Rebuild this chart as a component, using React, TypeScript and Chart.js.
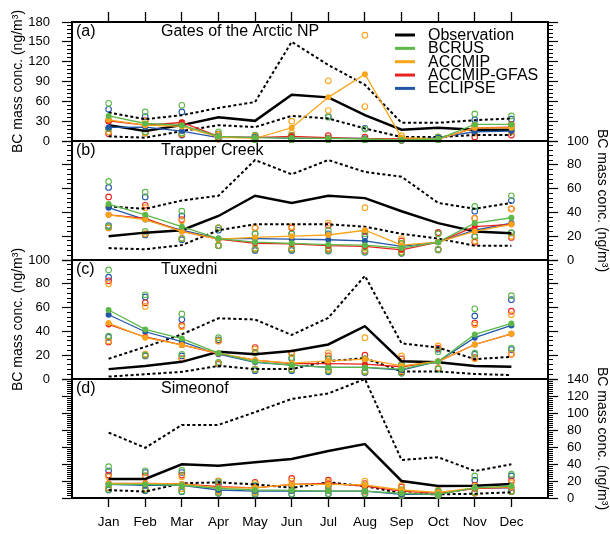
import React, { useEffect, useRef } from "react";
import { Chart, registerables } from "chart.js";

Chart.register(...registerables);

const FONT = '"Liberation Sans", Arial, Helvetica, sans-serif';
Chart.defaults.font.family = FONT;

// ---------- labels ----------
const MONTHS = ["Jan", "Feb", "Mar", "Apr", "May", "Jun", "Jul", "Aug", "Sep", "Oct", "Nov", "Dec"];
const SERIES_NAMES = ["Observation", "BCRUS", "ACCMIP", "ACCMIP-GFAS", "ECLIPSE"];
const SERIES_COLORS = ["#000000", "#5DB84A", "#F9A51B", "#E8231F", "#2257A8"];
const PANEL_LABELS = ["(a)", "(b)", "(c)", "(d)"];
const PANEL_TITLES = ["Gates of the Arctic NP", "Trapper Creek", "Tuxedni", "Simeonof"];
const Y_TITLE = "BC mass conc. (ng/m³)";

const A_TICKS = [0, 30, 60, 90, 120, 150, 180];
const B_TICKS = [0, 20, 40, 60, 80, 100];
const C_TICKS = [0, 20, 40, 60, 80, 100];
const D_TICKS = [0, 20, 40, 60, 80, 100, 120, 140];

// ---------- (a) Gates of the Arctic NP ----------
const A_OBS = [24, 15, 24, 36, 30.5, 70, 66, 39, 17, 20, 17, 17];
const A_OBS_HI = [43, 33, 39, 50, 59, 150, 115, 85, 27.5, 27.5, 31.5, 34];
const A_OBS_LO = [7, 5, 15, 24, 21, 38, 34, 19, 6, 6, 9, 9];
const A_BCRUS = [38, 26.5, 24, 7, 5, 4.5, 4, 3, 1.5, 3, 25, 25];
const A_ACCMIP = [32, 24, 22, 6, 4, 20, 66, 101, 5, 3, 20, 20];
const A_GFAS = [30.5, 24, 28, 7, 5, 7, 5, 3.5, 3, 3, 20, 21];
const A_ECLIPSE = [20.5, 21, 15, 5, 6, 4, 4.5, 4, 1, 5, 14, 15];
const A_BCRUS_HI = [57, 44, 54, 14, 9, 8, 36, 18, 4, 6, 41, 38];
const A_BCRUS_LO = [19, 14, 12, 4, 2, 2, 2, 2, 1, 2, 18, 18];
const A_ACCMIP_HI = [32, 30, 26, 10, 8, 30, 91, 160, 8, 6, 22, 24];
const A_ACCMIP_LO = [14, 12, 11, 3, 2, 12, 46, 52, 2, 2, 12, 14];
const A_GFAS_HI = [30, 31, 28, 10, 8, 8, 8, 6, 4, 6, 24, 25];
const A_GFAS_LO = [11, 13, 10, 3, 2, 2, 2, 2, 1, 2, 6, 9];
const A_ECLIPSE_HI = [48, 37, 44, 11, 8, 8, 37, 19, 4, 6, 32, 33];
const A_ECLIPSE_LO = [19, 12, 9, 3, 2, 2, 2, 2, 1, 2, 14, 16];

// ---------- (b) Trapper Creek ----------
const B_OBS = [20, 23, 25, 37, 54, 48, 54, 52, 41, 31, 24, 22.5];
const B_OBS_HI = [45, 43, 50, 54, 84, 72, 84, 74, 70, 48, 43, 48];
const B_OBS_LO = [10, 9, 12.5, 25, 30, 30, 30, 28, 22, 18, 12, 12];
const B_BCRUS = [47, 38, 28, 18, 15, 14, 13, 12.5, 10, 15, 31, 35.5];
const B_ACCMIP = [38, 34, 24, 17.5, 19, 20, 21, 25, 12.5, 15, 24, 30];
const B_GFAS = [38, 35, 24, 17.5, 14, 13.5, 12, 11.5, 8.5, 15, 28, 30];
const B_ECLIPSE = [44, 34, 25, 18, 18, 17.5, 17, 16, 11.5, 15, 25, 31];
const B_BCRUS_HI = [66, 57, 41, 27, 22, 22, 25, 22, 14, 22, 45, 54];
const B_BCRUS_LO = [28, 24, 18, 12, 9, 9, 8, 7, 6, 9, 20, 23];
const B_ACCMIP_HI = [45, 44, 33, 27, 27, 28, 31, 44, 18, 22, 35, 43];
const B_ACCMIP_LO = [27, 22, 18, 12, 10, 10, 10, 10, 7, 9, 16, 20];
const B_GFAS_HI = [53, 46, 34, 27, 27, 27, 29, 24, 16, 23, 35, 43];
const B_GFAS_LO = [27, 22, 18, 12, 9, 9, 9, 8, 6, 9, 15, 19];
const B_ECLIPSE_HI = [61, 53, 37, 25, 22, 22, 22, 20, 14, 23, 41, 50];
const B_ECLIPSE_LO = [29, 21, 17, 12, 8, 8, 7.5, 6.5, 5.6, 8.4, 19.6, 22.7];

// ---------- (c) Tuxedni ----------
const C_OBS = [8.3, 11, 14.4, 22.8, 20.8, 23.6, 29, 44.4, 15, 14, 11, 10.3];
const C_OBS_HI = [17, 27, 37.5, 51, 50, 37, 51.4, 86.7, 30, 26.4, 16.7, 18.6];
const C_OBS_LO = [2, 4, 6, 11, 8.3, 8.3, 15, 17.5, 6.4, 6.4, 4.2, 3.3];
const C_BCRUS = [58, 41.7, 34, 21.7, 14.4, 11.7, 9.7, 9.7, 8.3, 14.7, 37.5, 46.7];
const C_ACCMIP = [47, 34.7, 28.6, 21.7, 15.8, 13.3, 15.3, 16.7, 11, 14.7, 29, 38];
const C_GFAS = [45.8, 35.3, 28.6, 21.4, 15.8, 13, 13, 12.5, 10.3, 14.7, 29, 38];
const C_ECLIPSE = [54, 39.7, 31.4, 20.8, 14, 11.7, 9.7, 9.7, 7.5, 14.7, 34.7, 45];
const C_BCRUS_HI = [91.7, 70.8, 54.7, 34.7, 22, 18, 17, 17, 12, 23, 59, 70];
const C_BCRUS_LO = [36, 20, 20.8, 14, 8, 8, 7, 6, 5, 8.3, 21.7, 26];
const C_ACCMIP_HI = [80, 61, 44, 32, 25, 21, 22, 34.7, 19.4, 27.8, 45.6, 54];
const C_ACCMIP_LO = [32, 21, 17, 13, 8.3, 8.3, 8, 7, 7, 9, 17, 21];
const C_GFAS_HI = [82.5, 64, 45, 32, 26.4, 22, 19.5, 20, 17, 26, 47, 57];
const C_GFAS_LO = [31, 20, 17.2, 13, 8.3, 8.3, 7, 6, 6, 9, 18, 20.8];
const C_ECLIPSE_HI = [85.6, 69, 50, 33, 22, 17, 17, 17, 12, 25, 53, 66.7];
const C_ECLIPSE_LO = [35, 19.4, 19.4, 12.5, 7, 7, 6, 5.5, 5, 8.3, 20.8, 24.7];

// ---------- (d) Simeonof ----------
const D_OBS = [22.4, 22.4, 39.6, 38, 42, 45.9, 55.3, 63.5, 20, 14, 14.5, 16.5];
const D_OBS_HI = [77, 59, 86, 86, 101, 116.5, 123, 140, 44.7, 48, 31.8, 39.6];
const D_OBS_LO = [9.4, 7.5, 17.3, 18.4, 16, 12, 18.4, 14, 5.5, 4.3, 5, 6.7];
const D_BCRUS = [16, 16, 15, 11.4, 9.4, 9, 8.2, 8.2, 5.5, 4.3, 12, 14];
const D_ACCMIP = [17, 17, 16.5, 12, 12, 16, 16, 15.4, 9.4, 6.6, 12, 13];
const D_GFAS = [17.3, 17.3, 16.5, 13.3, 12, 16, 17.3, 14, 8.2, 5.5, 11, 12.5];
const D_ECLIPSE = [16, 15, 15, 9.4, 8.2, 8.2, 8.2, 8.2, 4.3, 4.3, 12, 12];
const D_BCRUS_HI = [36.8, 32, 32.5, 19, 15, 15, 15, 15, 10, 8, 26, 28];
const D_BCRUS_LO = [10, 9.4, 8, 6, 5, 5, 5, 5, 3, 3, 7, 8];
const D_ACCMIP_HI = [25, 24, 25, 20, 17, 20, 19, 20, 15, 9.4, 14, 18];
const D_ACCMIP_LO = [12, 11, 11, 8, 7, 9, 9, 8, 5, 4, 6, 8];
const D_GFAS_HI = [27, 26, 27, 20, 18.4, 23, 21, 17, 13, 7.5, 15, 20.5];
const D_GFAS_LO = [12, 11, 11, 8, 7, 9, 10, 8, 4, 3.5, 6, 8];
const D_ECLIPSE_HI = [32, 30, 30, 17, 14, 14, 14, 14, 9, 8, 21, 26];
const D_ECLIPSE_LO = [9.4, 8.5, 7.5, 5.5, 4.5, 4.5, 5, 5, 3, 3, 6, 7.5];

// ---------- panel tables built from the arrays ----------
const PANEL_DATA = [
  { obs: A_OBS, hi: A_OBS_HI, lo: A_OBS_LO, models: [A_BCRUS, A_ACCMIP, A_GFAS, A_ECLIPSE],
    spreads: [[A_BCRUS_HI, A_BCRUS_LO], [A_ACCMIP_HI, A_ACCMIP_LO], [A_GFAS_HI, A_GFAS_LO], [A_ECLIPSE_HI, A_ECLIPSE_LO]], ticks: A_TICKS },
  { obs: B_OBS, hi: B_OBS_HI, lo: B_OBS_LO, models: [B_BCRUS, B_ACCMIP, B_GFAS, B_ECLIPSE],
    spreads: [[B_BCRUS_HI, B_BCRUS_LO], [B_ACCMIP_HI, B_ACCMIP_LO], [B_GFAS_HI, B_GFAS_LO], [B_ECLIPSE_HI, B_ECLIPSE_LO]], ticks: B_TICKS },
  { obs: C_OBS, hi: C_OBS_HI, lo: C_OBS_LO, models: [C_BCRUS, C_ACCMIP, C_GFAS, C_ECLIPSE],
    spreads: [[C_BCRUS_HI, C_BCRUS_LO], [C_ACCMIP_HI, C_ACCMIP_LO], [C_GFAS_HI, C_GFAS_LO], [C_ECLIPSE_HI, C_ECLIPSE_LO]], ticks: C_TICKS },
  { obs: D_OBS, hi: D_OBS_HI, lo: D_OBS_LO, models: [D_BCRUS, D_ACCMIP, D_GFAS, D_ECLIPSE],
    spreads: [[D_BCRUS_HI, D_BCRUS_LO], [D_ACCMIP_HI, D_ACCMIP_LO], [D_GFAS_HI, D_GFAS_LO], [D_ECLIPSE_HI, D_ECLIPSE_LO]], ticks: D_TICKS },
];

// layout (positions only)
const W = 610;
const H = 534;
const PLOT_LEFT = 72;
const PLOT_RIGHT = 548;
const PANEL_LAYOUT = [
  { top: 22, bottom: 141, minor: 6, side: "left" },
  { top: 141, bottom: 260, minor: 4, side: "right" },
  { top: 260, bottom: 379, minor: 4, side: "left" },
  { top: 379, bottom: 498, minor: 2.5, side: "right" },
];

const pts = (arr: number[]) => arr.map((v, i) => ({ x: i + 1, y: v }));

const panelTextPlugin = {
  id: "panelText",
  afterDraw(chart: any, _args: any, opts: any) {
    const { ctx, chartArea } = chart;
    ctx.save();
    ctx.fillStyle = "#000";
    ctx.font = `16px ${FONT}`;
    ctx.textBaseline = "middle";
    ctx.textAlign = "left";
    ctx.fillText(opts.label, chartArea.left + 4, chartArea.top + 10);
    ctx.fillText(opts.title, chartArea.left + 89, chartArea.top + 10);
    if (opts.legend) {
      for (let i = 0; i < SERIES_NAMES.length; i++) {
        const y = chartArea.top + 13 + i * 13.35;
        ctx.strokeStyle = SERIES_COLORS[i];
        ctx.lineWidth = 3;
        ctx.beginPath();
        ctx.moveTo(chartArea.left + 323, y);
        ctx.lineTo(chartArea.left + 343, y);
        ctx.stroke();
        ctx.fillText(SERIES_NAMES[i], chartArea.left + 356, y + 0.5);
      }
    }
    ctx.restore();
  },
};

function makeChart(canvas: HTMLCanvasElement, idx: number) {
  const d = PANEL_DATA[idx];
  const L = PANEL_LAYOUT[idx];
  const yMax = d.ticks[d.ticks.length - 1];
  const isFirst = idx === 0;
  const isLast = idx === PANEL_DATA.length - 1;
  const minorVals: number[] = [];
  for (let v = 0; v <= yMax + 1e-9; v += L.minor) minorVals.push(Math.round(v * 100) / 100);

  const datasets: any[] = [];
  // open circles (spread of members)
  d.spreads.forEach((pair, m) => {
    pair.forEach((arr) => {
      datasets.push({
        data: pts(arr), yAxisID: "yL", showLine: false, order: 3, clip: 4,
        pointRadius: 2.8, pointBorderWidth: 1.1, pointBorderColor: SERIES_COLORS[m + 1],
        pointBackgroundColor: "rgba(0,0,0,0)", borderColor: SERIES_COLORS[m + 1],
      });
    });
  });
  // observation envelope
  [d.hi, d.lo].forEach((arr) => {
    datasets.push({
      data: pts(arr), yAxisID: "yL", order: 2, borderColor: "#000", borderWidth: 2,
      borderDash: [3, 2.5], pointRadius: 0, tension: 0, clip: 2,
    });
  });
  datasets.push({
    data: pts(d.obs), yAxisID: "yL", order: 2, borderColor: "#000", borderWidth: 2.5,
    pointRadius: 0, tension: 0, clip: 2,
  });
  d.models.forEach((arr, m) => {
    datasets.push({
      data: pts(arr), yAxisID: "yL", order: 1, borderColor: SERIES_COLORS[m + 1], borderWidth: 1.3,
      pointRadius: 3, pointBorderWidth: 0, pointBackgroundColor: SERIES_COLORS[m + 1], tension: 0, clip: 4,
    });
  });

  const monthTicks = (s: any) => { s.ticks = MONTHS.map((_, i) => ({ value: i + 1 })); };
  const majorTicks = (s: any) => { s.ticks = d.ticks.map((v) => ({ value: v })); };
  const minorTicks = (s: any) => { s.ticks = minorVals.map((v) => ({ value: v })); };
  const labelLeft = L.side === "left";

  const yTitle = (show: boolean, left: boolean) => ({
    display: show, text: Y_TITLE, color: "#000", font: { size: 14, family: FONT },
    padding: left ? { top: 10, bottom: 0 } : { top: 0, bottom: 0 },
  });

  return new Chart(canvas, {
    type: "line",
    data: { datasets },
    plugins: [panelTextPlugin],
    options: {
      animation: false,
      responsive: false,
      devicePixelRatio: 1,
      layout: { padding: 0 },
      plugins: {
        legend: { display: false },
        tooltip: { enabled: false },
        title: { display: false },
        panelText: { label: PANEL_LABELS[idx], title: PANEL_TITLES[idx], legend: isFirst },
      } as any,
      scales: {
        x: {
          type: "linear", position: "bottom", min: 0, max: 13,
          afterBuildTicks: monthTicks,
          afterFit: (s: any) => { s.height = H - L.bottom; },
          ticks: {
            display: isLast, autoSkip: false, maxRotation: 0, color: "#000", padding: 7,
            font: { size: 13.5, family: FONT }, callback: (v: any) => MONTHS[Number(v) - 1] ?? "",
          },
          grid: { drawOnChartArea: false, drawTicks: isLast, tickLength: 9, tickColor: "#000", tickWidth: 1.3 },
          border: { display: true, color: "#000", width: 2 },
        },
        xt: {
          type: "linear", position: "top", min: 0, max: 13,
          afterBuildTicks: monthTicks,
          afterFit: (s: any) => { s.height = L.top; },
          ticks: { display: false },
          grid: { drawOnChartArea: false, drawTicks: isFirst, tickLength: 10, tickColor: "#000", tickWidth: 1.3 },
          border: { display: true, color: "#000", width: 2 },
        },
        yL: {
          type: "linear", position: "left", min: 0, max: yMax, weight: 1,
          afterBuildTicks: majorTicks,
          afterFit: (s: any) => { s.width = PLOT_LEFT; },
          ticks: { display: labelLeft, autoSkip: false, color: "#000", padding: 12, font: { size: 13, family: FONT } },
          grid: { drawOnChartArea: false, drawTicks: true, tickLength: 10, tickColor: "#000", tickWidth: 1.2 },
          border: { display: true, color: "#000", width: 2 },
          title: yTitle(labelLeft, true),
        },
        yLm: {
          type: "linear", position: "left", min: 0, max: yMax, weight: 0,
          afterBuildTicks: minorTicks,
          afterFit: (s: any) => { s.width = 0; },
          ticks: { display: false, autoSkip: false },
          grid: { drawOnChartArea: false, drawTicks: true, tickLength: 5, tickColor: "#000", tickWidth: 1 },
          border: { display: false },
        },
        yR: {
          type: "linear", position: "right", min: 0, max: yMax, weight: 1,
          afterBuildTicks: majorTicks,
          afterFit: (s: any) => { s.width = W - PLOT_RIGHT; },
          ticks: { display: !labelLeft, autoSkip: false, color: "#000", padding: 9, font: { size: 13, family: FONT } },
          grid: { drawOnChartArea: false, drawTicks: true, tickLength: 10, tickColor: "#000", tickWidth: 1.2 },
          border: { display: true, color: "#000", width: 2 },
          title: yTitle(!labelLeft, false),
        },
        yRm: {
          type: "linear", position: "right", min: 0, max: yMax, weight: 0,
          afterBuildTicks: minorTicks,
          afterFit: (s: any) => { s.width = 0; },
          ticks: { display: false, autoSkip: false },
          grid: { drawOnChartArea: false, drawTicks: true, tickLength: 5, tickColor: "#000", tickWidth: 1 },
          border: { display: false },
        },
      },
    } as any,
  });
}

export default function App() {
  const canvases = useRef<(HTMLCanvasElement | null)[]>([]);
  useEffect(() => {
    const charts = PANEL_DATA.map((_, i) => makeChart(canvases.current[i] as HTMLCanvasElement, i));
    return () => charts.forEach((c) => c.destroy());
  }, []);
  return (
    <div style={{ position: "absolute", left: 0, top: 0, width: W, height: H, background: "#fff", overflow: "hidden" }}>
      {PANEL_DATA.map((_, i) => (
        <canvas
          key={i}
          ref={(el) => { canvases.current[i] = el; }}
          width={W}
          height={H}
          style={{ position: "absolute", left: 0, top: 0, width: W, height: H }}
        />
      ))}
    </div>
  );
}
